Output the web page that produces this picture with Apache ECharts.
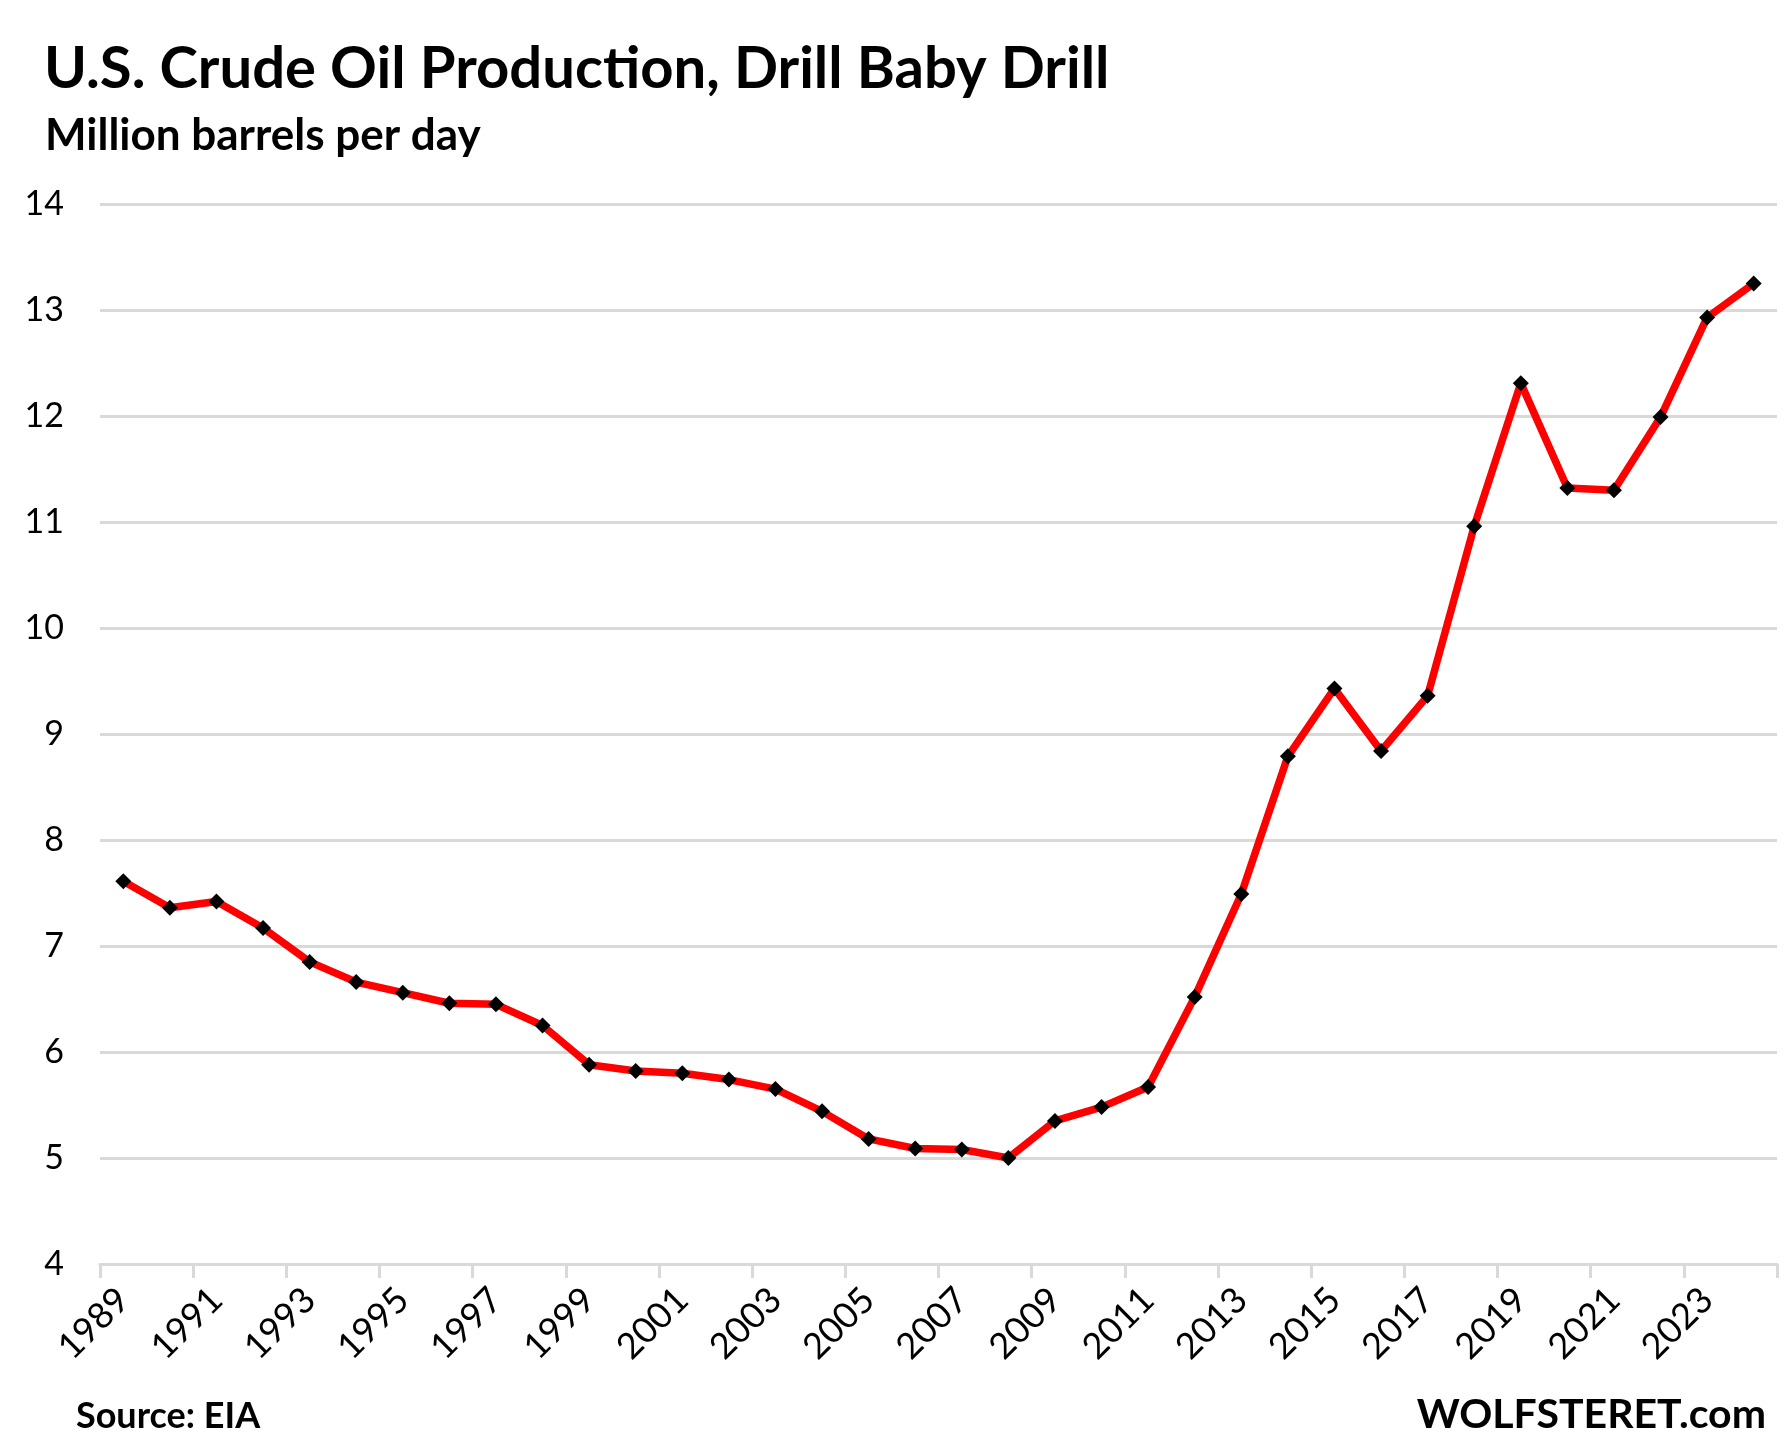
<!DOCTYPE html>
<html>
<head>
<meta charset="utf-8">
<script src="https://cdn.jsdelivr.net/npm/echarts@6/dist/echarts.min.js"></script>
<style>
html,body{margin:0;padding:0;background:#fff;}
#chart{width:1786px;height:1448px;}
</style>
</head>
<body>
<div id="chart"></div>
<script>
const years = ['1989','1990','1991','1992','1993','1994','1995','1996','1997','1998','1999','2000','2001','2002','2003','2004','2005','2006','2007','2008','2009','2010','2011','2012','2013','2014','2015','2016','2017','2018','2019','2020','2021','2022','2023','2024'];
const production = [7.61,7.36,7.42,7.17,6.85,6.66,6.56,6.46,6.45,6.25,5.88,5.82,5.80,5.74,5.65,5.44,5.18,5.09,5.08,5.00,5.35,5.48,5.67,6.52,7.49,8.79,9.43,8.84,9.36,10.96,12.31,11.32,11.30,11.99,12.93,13.25];
const titleText = 'U.S. Crude Oil Production, Drill Baby Drill';
const subtitleText = 'Million barrels per day';
const sourceText = 'Source: EIA';
const brandText = 'WOLFSTERET.com';

const FONT = 'Lato, "Open Sans", sans-serif';
const chart = echarts.init(document.getElementById('chart'));
chart.setOption({
  backgroundColor: '#ffffff',
  animation: false,
  title: [
    {text: titleText, left: 44, top: 40, padding: 0, textStyle: {fontFamily: FONT, fontWeight: 'bold', fontSize: 58, color: '#000'}},
    {text: subtitleText, left: 45, top: 114, padding: 0, textStyle: {fontFamily: FONT, fontWeight: 'bold', fontSize: 44, color: '#000'}},
    {text: sourceText, left: 76, top: 1398, padding: 0, textStyle: {fontFamily: FONT, fontWeight: 'bold', fontSize: 36, color: '#000'}},
    {text: brandText, right: 20, top: 1394, padding: 0, textStyle: {fontFamily: FONT, fontWeight: 'bold', fontSize: 41, color: '#000'}}
  ],
  grid: {left: 100, right: 9, top: 204, bottom: 184, containLabel: false},
  xAxis: {
    type: 'category',
    data: years,
    boundaryGap: true,
    axisLine: {lineStyle: {color: '#d9d9d9', width: 3}},
    axisTick: {show: true, interval: 1, length: 14, lineStyle: {color: '#d9d9d9', width: 3}},
    axisLabel: {interval: 1, rotate: 45, fontFamily: FONT, fontSize: 36, color: '#000', margin: 30},
    splitLine: {show: false}
  },
  yAxis: {
    type: 'value',
    min: 4, max: 14, interval: 1,
    axisLine: {show: false},
    axisTick: {show: false},
    axisLabel: {fontFamily: FONT, fontSize: 34, color: '#000', margin: 36},
    splitLine: {lineStyle: {color: '#d9d9d9', width: 3}}
  },
  series: [{
    type: 'line',
    data: production,
    symbol: 'diamond',
    symbolSize: 16,
    itemStyle: {color: '#000'},
    lineStyle: {color: '#ff0000', width: 7.5},
    z: 3
  }]
});
</script>
</body>
</html>
